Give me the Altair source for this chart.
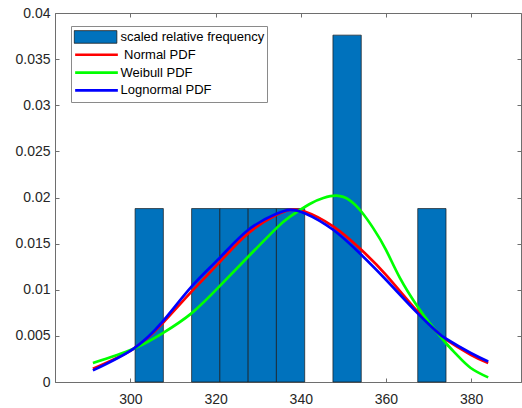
import altair as alt
import pandas as pd

# ---------------- data ----------------
hist_label = "scaled relative frequency"
series_names = ["Normal PDF", "Weibull PDF", "Lognormal PDF"]

bin_start = [301.10, 314.37, 321.00, 327.65, 334.28, 347.55, 367.46]
bin_end = [307.74, 321.00, 327.65, 334.28, 340.92, 354.20, 374.10]
bin_height = [0.0188, 0.0188, 0.0188, 0.0188, 0.0188, 0.0376, 0.0188]

normal_x = [291.2, 300.6, 307.6, 314.4, 320.9, 327.7, 334.3, 337.4, 340.9,
            347.6, 354.2, 360.0, 367.4, 371.9, 374.1, 379.9, 384.0]
normal_y = [0.00144, 0.00357, 0.00639, 0.00982, 0.01296, 0.01614, 0.01812, 0.01866, 0.01848,
            0.01686, 0.01433, 0.01162, 0.00765, 0.00548, 0.00458, 0.00296, 0.00206]

weibull_x = [291.2, 300.6, 307.6, 314.4, 320.9, 327.7, 334.3, 337.4, 342.1, 345.3,
             348.4, 351.5, 354.2, 357.0, 360.0, 363.3, 367.4, 370.3, 371.9, 374.1,
             376.6, 379.9, 384.0]
weibull_y = [0.00206, 0.00357, 0.0053, 0.00747, 0.01036, 0.0136, 0.01668, 0.0179, 0.0193, 0.01995,
             0.0202, 0.0197, 0.01848, 0.01668, 0.01433, 0.01126, 0.00819, 0.00635, 0.00545, 0.0042,
             0.00296, 0.00152, 0.0005]

lognormal_x = [291.2, 300.6, 307.6, 314.4, 320.9, 327.7, 334.3, 337.4, 340.9,
               347.6, 354.2, 360.0, 367.4, 371.9, 374.1, 379.9, 384.0]
lognormal_y = [0.00126, 0.00357, 0.00657, 0.01036, 0.01343, 0.0165, 0.01823, 0.01866, 0.0183,
               0.0165, 0.01379, 0.01108, 0.00747, 0.00548, 0.00469, 0.00314, 0.00223]

x_ticks = [300, 320, 340, 360, 380]
y_ticks = [0, 0.005, 0.01, 0.015, 0.02, 0.025, 0.03, 0.035, 0.04]

# ---------------- tables ----------------
bars_df = pd.DataFrame({"start": bin_start, "end": bin_end, "height": bin_height,
                        "name": [hist_label] * len(bin_start)})

rows = []
for name, xs, ys in zip(series_names, [normal_x, weibull_x, lognormal_x],
                        [normal_y, weibull_y, lognormal_y]):
    for xv, yv in zip(xs, ys):
        rows.append({"x": xv, "y": yv, "series": name})
lines_df = pd.DataFrame(rows)

# ---------------- styling ----------------
W, H = 466, 369
line_color = "#6e6e6e"
text_color = "#262626"
font = "Liberation Sans"
x_scale = alt.Scale(domain=[282.3, 391.7], zero=False, nice=False)
y_scale = alt.Scale(domain=[0, 0.04], zero=False, nice=False)

label_axis = dict(domainColor=line_color, labelColor=text_color, labelFont=font,
                  labelFontSize=14, grid=False, ticks=False, domainWidth=1, title=None)
tick_axis = dict(domainColor=line_color, tickColor=line_color, grid=False, labels=False,
                 ticks=True, tickSize=4, tickWidth=1, domainWidth=1, title=None)

legend_entries = [hist_label] + series_names

# the reference legend shows " Normal PDF" with a leading blank
legend_lines = alt.Legend(orient="none", legendX=16, legendY=13, padding=2.5,
                          strokeColor="#8a8a8a", fillColor="white", clipHeight=16.9,
                          rowPadding=0.8, symbolType="stroke", symbolSize=1823,
                          symbolStrokeWidth=2.7, symbolOffset=0,
                          labelOffset={"expr": "datum.label == 'Normal PDF' ? 4.6 : 1"},
                          labelFont=font, labelFontSize=13, labelColor="black",
                          title=None, zindex=0)

legend_bar = alt.Legend(orient="none", legendX=16, legendY=13, padding=2.5,
                        clipHeight=16.9, rowPadding=0.8,
                        symbolType="M-1,-0.295H1V0.295H-1Z", symbolSize=1823,
                        symbolOffset=0, symbolStrokeColor="#1a1a1a",
                        symbolStrokeWidth=0.8, labelExpr="''", title=None, zindex=1)

# histogram bars (carry the labelled bottom / left axes)
bars = alt.Chart(bars_df).mark_rect(stroke="#1a1a1a", strokeWidth=0.7).encode(
    x=alt.X("start:Q", scale=x_scale,
            axis=alt.Axis(orient="bottom", values=x_ticks, labelPadding=10, **label_axis)),
    x2="end:Q",
    y=alt.Y("height:Q", scale=y_scale,
            axis=alt.Axis(orient="left", values=y_ticks, format="~g", labelPadding=5,
                          **label_axis)),
    y2=alt.datum(0),
    fill=alt.Fill("name:N", scale=alt.Scale(domain=[hist_label], range=["#0072BD"]),
                  legend=legend_bar),
)

# fitted PDFs (carry the top / right box edges with inward ticks)
lines = alt.Chart(lines_df).mark_line(strokeWidth=2.7, interpolate="natural").encode(
    x=alt.X("x:Q", scale=x_scale,
            axis=alt.Axis(orient="bottom", offset=-H, values=x_ticks, **tick_axis)),
    y=alt.Y("y:Q", scale=y_scale,
            axis=alt.Axis(orient="left", offset=-W, values=y_ticks, **tick_axis)),
    stroke=alt.Stroke("series:N",
                      scale=alt.Scale(domain=legend_entries,
                                      range=["transparent", "#FF0000", "#00FF00", "#0000FF"]),
                      legend=legend_lines),
)

# invisible layer carrying the inward ticks on the bottom / left edges
ghost = alt.Chart(lines_df).mark_line(strokeOpacity=0).encode(
    x=alt.X("x:Q", scale=x_scale,
            axis=alt.Axis(orient="top", offset=-H, values=x_ticks, **tick_axis)),
    y=alt.Y("y:Q", scale=y_scale,
            axis=alt.Axis(orient="right", offset=-W, values=y_ticks, **tick_axis)),
    detail="series:N",
)

chart = alt.layer(bars, lines, ghost).properties(
    width=W, height=H,
    autosize=alt.AutoSizeParams(type="none"),
    padding={"left": 55, "top": 13, "right": 1, "bottom": 26},
    background="white",
).configure_view(strokeWidth=0)

chart.save("out.html", embed_options={"renderer": "svg", "actions": False})
